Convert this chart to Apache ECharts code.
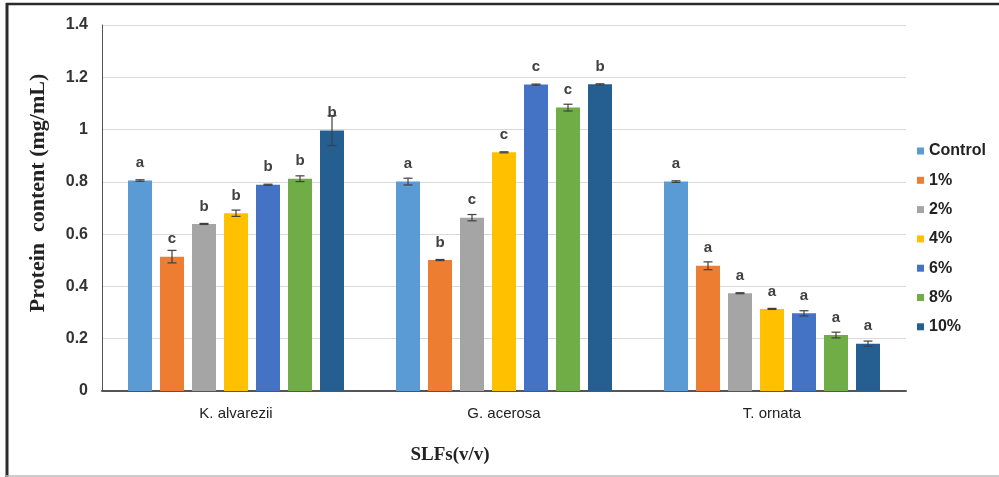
<!DOCTYPE html>
<html>
<head>
<meta charset="utf-8">
<script src="https://cdn.jsdelivr.net/npm/echarts@6/dist/echarts.min.js"></script>
<style>
  html, body { margin: 0; padding: 0; background: #fff; }
  #chart { width: 999px; height: 477px; }
</style>
</head>
<body>
<div id="chart"></div>
<script>
// Seaweed liquid fertilizer sources on the x axis
const categories = ['K. alvarezii', 'G. acerosa', 'T. ornata'];
const treatments = ['Control', '1%', '2%', '4%', '6%', '8%', '10%'];

// Mean protein content (mg/mL) per treatment, one value per source
const controlVals = [0.805, 0.801, 0.801];
const pct1Vals    = [0.514, 0.501, 0.479];
const pct2Vals    = [0.639, 0.663, 0.374];
const pct4Vals    = [0.680, 0.913, 0.314];
const pct6Vals    = [0.789, 1.172, 0.297];
const pct8Vals    = [0.812, 1.084, 0.214];
const pct10Vals   = [0.996, 1.173, 0.181];

// Standard errors
const controlErr = [0.003, 0.013, 0.003];
const pct1Err    = [0.024, 0.002, 0.015];
const pct2Err    = [0.002, 0.012, 0.002];
const pct4Err    = [0.012, 0.002, 0.002];
const pct6Err    = [0.002, 0.002, 0.010];
const pct8Err    = [0.011, 0.013, 0.011];
const pct10Err   = [0.057, 0.002, 0.010];

// Significance letters
const controlLetters = ['a', 'a', 'a'];
const pct1Letters    = ['c', 'b', 'a'];
const pct2Letters    = ['b', 'c', 'a'];
const pct4Letters    = ['b', 'c', 'a'];
const pct6Letters    = ['b', 'c', 'a'];
const pct8Letters    = ['b', 'c', 'a'];
const pct10Letters   = ['b', 'b', 'a'];

// Y axis ticks
const yMin = 0, yMax = 1.4, yStep = 0.2;

const values  = [controlVals, pct1Vals, pct2Vals, pct4Vals, pct6Vals, pct8Vals, pct10Vals];
const errors  = [controlErr, pct1Err, pct2Err, pct4Err, pct6Err, pct8Err, pct10Err];
const letters = [controlLetters, pct1Letters, pct2Letters, pct4Letters, pct6Letters, pct8Letters, pct10Letters];
const colors  = ['#5B9BD5', '#ED7D31', '#A5A5A5', '#FFC000', '#4472C4', '#70AD47', '#255E91'];

const BAR_W = 24, BAR_GAP = 8;
const n = treatments.length;

const series = [];
treatments.forEach((name, s) => {
  series.push({
    name: name,
    type: 'bar',
    data: values[s],
    barWidth: BAR_W,
    barGap: (BAR_GAP / BAR_W * 100).toFixed(2) + '%',
    itemStyle: { color: colors[s] },
    label: {
      show: true,
      position: 'top',
      distance: 10,
      fontFamily: 'Liberation Sans, Arial, sans-serif',
      fontWeight: 'bold',
      fontSize: 15,
      color: '#404040',
      formatter: p => letters[s][p.dataIndex]
    }
  });
});

// Error bars drawn over each bar
treatments.forEach((name, s) => {
  series.push({
    type: 'custom',
    name: name + ' err',
    z: 5,
    silent: true,
    data: values[s].map((v, i) => [i, v, errors[s][i]]),
    renderItem: (params, api) => {
      const cat = api.value(0), mean = api.value(1), err = api.value(2);
      const off = (s - (n - 1) / 2) * (BAR_W + BAR_GAP);
      const hi = api.coord([cat, mean + err]);
      const lo = api.coord([cat, mean - err]);
      const x = hi[0] + off;
      const cap = 4.5;
      const style = { stroke: '#404040', lineWidth: 1.2 };
      return {
        type: 'group',
        children: [
          { type: 'line', shape: { x1: x, y1: hi[1], x2: x, y2: lo[1] }, style },
          { type: 'line', shape: { x1: x - cap, y1: hi[1], x2: x + cap, y2: hi[1] }, style },
          { type: 'line', shape: { x1: x - cap, y1: lo[1], x2: x + cap, y2: lo[1] }, style }
        ]
      };
    }
  });
});

const chart = echarts.init(document.getElementById('chart'), null, { renderer: 'canvas' });
chart.setOption({
  backgroundColor: '#ffffff',
  animation: false,
  grid: { left: 102, right: 93, top: 25, bottom: 86 },
  legend: {
    data: treatments,
    orient: 'vertical',
    left: 912,
    top: 138,
    itemWidth: 7,
    itemHeight: 7,
    itemGap: 13.3,
    icon: 'rect',
    textStyle: {
      fontFamily: 'Liberation Sans, Arial, sans-serif',
      fontWeight: 'bold',
      fontSize: 16,
      color: '#222'
    },
    selectedMode: false
  },
  xAxis: {
    type: 'category',
    data: categories,
    axisLine: { lineStyle: { color: '#555', width: 2 } },
    axisTick: { show: false },
    axisLabel: {
      margin: 15,
      fontFamily: 'Liberation Sans, Arial, sans-serif',
      fontSize: 15,
      color: '#222'
    }
  },
  yAxis: {
    type: 'value',
    min: yMin,
    max: yMax,
    interval: yStep,
    axisLine: { show: true, lineStyle: { color: '#555', width: 1 } },
    axisTick: { show: false },
    splitLine: { lineStyle: { color: '#d9d9d9', width: 1 } },
    axisLabel: {
      margin: 14,
      fontFamily: 'Liberation Sans, Arial, sans-serif',
      fontWeight: 'bold',
      fontSize: 16,
      color: '#333'
    }
  },
  graphic: [
    { type: 'line', shape: { x1: 6, y1: 4, x2: 999, y2: 4 }, style: { stroke: '#2b2b2b', lineWidth: 2.5 } },
    { type: 'line', shape: { x1: 7, y1: 3, x2: 7, y2: 477 }, style: { stroke: '#2b2b2b', lineWidth: 3 } },
    { type: 'line', shape: { x1: 6, y1: 476, x2: 999, y2: 476 }, style: { stroke: '#bbbbbb', lineWidth: 1.5 } },
    {
      type: 'text',
      x: 38, y: 193,
      rotation: Math.PI / 2,
      style: {
        text: 'Protein  content (mg/mL)',
        font: 'bold 22px "Liberation Serif", "Times New Roman", serif',
        fill: '#222',
        textAlign: 'center',
        textVerticalAlign: 'middle'
      }
    },
    {
      type: 'text',
      x: 450, y: 455,
      style: {
        text: 'SLFs(v/v)',
        font: 'bold 19px "Liberation Serif", "Times New Roman", serif',
        fill: '#222',
        textAlign: 'center',
        textVerticalAlign: 'middle'
      }
    }
  ],
  series: series
});
</script>
</body>
</html>
